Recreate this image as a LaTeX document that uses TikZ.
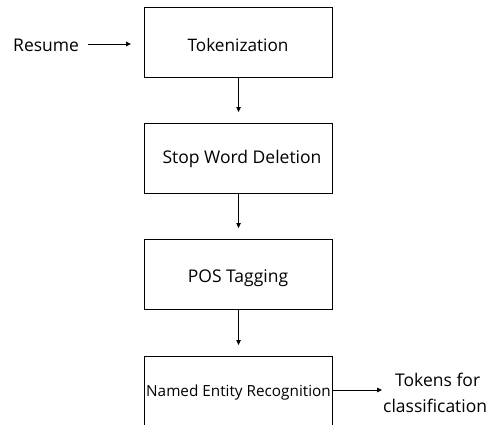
\documentclass[tikz,border=0pt]{standalone}
\usepackage{fontspec}
\setmainfont{Open Sans}
\usetikzlibrary{arrows.meta}
\begin{document}
\begin{tikzpicture}[x=1pt,y=-1pt,
  stepbox/.style={draw,line width=1.1pt,minimum width=188pt,minimum height=70pt,inner sep=0pt,anchor=north west},
  lbl/.style={font=\fontsize{17.5}{21}\selectfont,inner sep=0pt},
  arr/.style={-{Triangle[length=5pt,width=4.5pt]},line width=0.9pt}]
\path[use as bounding box] (0,0) rectangle (494,424);
\begin{scope}
\clip (0,0) rectangle (494,424);
\node[stepbox] (tok) at (144,7) {};
\node[lbl,font=\fontsize{17.2}{20}\selectfont] (toktx) at (238,45) {Tokenization};
\node[stepbox] (stop) at (144,123) {};
\node[lbl] (stoptx) at (242,159) {Stop Word Deletion};
\node[stepbox] (pos) at (144,239) {};
\node[lbl] (postx) at (238,278) {POS Tagging};
\node[stepbox,minimum height=72pt] (ner) at (144,356) {};
\node[lbl,font=\fontsize{15.3}{18}\selectfont] (nertx) at (238.5,393) {Named Entity Recognition};
\end{scope}
\node[lbl,anchor=west] (res) at (13,45) {Resume};
\coordinate (resend) at (88,44);
\coordinate (resarr) at (131,44);
\node[lbl,anchor=west] (out1) at (395,380) {Tokens for};
\node[lbl,anchor=west] (out2) at (383,406) {classification};
\coordinate (nerarr) at (382,390);
\draw[arr] (resend) -- (resarr);
\draw[arr,shorten >=11pt] (tok.south) -- (stop.north);
\draw[arr,shorten >=11pt] (stop.south) -- (pos.north);
\draw[arr,shorten >=11pt] (pos.south) -- (ner.north);
\draw[arr] (ner.east |- nerarr) -- (nerarr);
\end{tikzpicture}
\end{document}
